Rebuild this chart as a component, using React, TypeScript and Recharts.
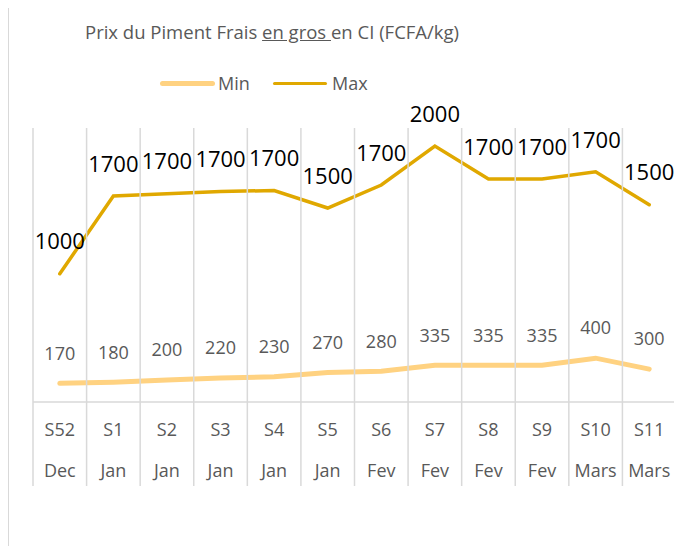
import { ComposedChart, Area, XAxis, YAxis, LabelList } from "recharts"

const weeks = ["S52", "S1", "S2", "S3", "S4", "S5", "S6", "S7", "S8", "S9", "S10", "S11"]
const months = ["Dec", "Jan", "Jan", "Jan", "Jan", "Jan", "Fev", "Fev", "Fev", "Fev", "Mars", "Mars"]
const minPrices = [170, 180, 200, 220, 230, 270, 280, 335, 335, 335, 400, 300]
const maxPrices = [1000, 1700, 1700, 1700, 1700, 1500, 1700, 2000, 1700, 1700, 1700, 1500]

const data = weeks.map((week, i) => ({
  week,
  month: months[i],
  min: minPrices[i],
  max: maxPrices[i],
}))

const MIN_COLOR = "#FFD281"
const MAX_COLOR = "#E0A800"
const GRID = "#D9D9D9"
const TEXT = "#595959"
const FONT = "'Open Sans', sans-serif"

const WIDTH = 674
const HEIGHT = 538
const MARGIN = { top: 120, right: 6, left: 25, bottom: 54 }
const BAND = (WIDTH - MARGIN.left - MARGIN.right) / weeks.length

function CategoryTick(props: any) {
  const { x, index, payload } = props
  const left = x - BAND / 2
  const right = x + BAND / 2
  return (
    <g>
      <line x1={left} x2={left} y1={MARGIN.top} y2={478} stroke={GRID} strokeWidth={1.5} />
      {index === weeks.length - 1 && (
        <line x1={right} x2={right} y1={MARGIN.top} y2={478} stroke={GRID} strokeWidth={1.5} />
      )}
      <text x={x} y={428} textAnchor="middle" fontSize={18} fill={TEXT} fontFamily={FONT}>
        {payload.value}
      </text>
      <text x={x} y={469} textAnchor="middle" fontSize={18} fill={TEXT} fontFamily={FONT}>
        {months[index]}
      </text>
    </g>
  )
}

function MinLabel(props: any) {
  const { x, y, value } = props
  return (
    <text x={x} y={y - 30} dy="0.35em" textAnchor="middle" fontSize={18} fill={TEXT} fontFamily={FONT}>
      {value}
    </text>
  )
}

function MaxLabel(props: any) {
  const { x, y, value } = props
  return (
    <text x={x} y={y - 32} dy="0.35em" textAnchor="middle" fontSize={22} fill="#000" fontFamily={FONT}>
      {value}
    </text>
  )
}

export default function App() {
  return (
    <div style={{ position: "relative", width: WIDTH, height: HEIGHT, fontFamily: FONT }}>
      <div
        style={{
          position: "absolute",
          left: 0,
          top: -1,
          width: WIDTH,
          height: HEIGHT + 10,
          borderTop: `1.5px solid ${GRID}`,
          borderLeft: `1.5px solid ${GRID}`,
        }}
      />
      <div
        style={{
          position: "absolute",
          left: 77,
          top: 12,
          fontSize: 18.5,
          lineHeight: "24px",
          color: TEXT,
          whiteSpace: "nowrap",
        }}
      >
        Prix du Piment Frais <span style={{ textDecoration: "underline" }}>en gros </span>en CI (FCFA/kg)
      </div>
      <div style={{ position: "absolute", left: 152, top: 73, width: 55, height: 5, borderRadius: 3, background: MIN_COLOR }} />
      <div style={{ position: "absolute", left: 210, top: 63, fontSize: 18, lineHeight: "24px", color: TEXT }}>Min</div>
      <div style={{ position: "absolute", left: 265, top: 74, width: 54, height: 3, borderRadius: 2, background: MAX_COLOR }} />
      <div style={{ position: "absolute", left: 324, top: 63, fontSize: 18, lineHeight: "24px", color: TEXT }}>Max</div>
      <ComposedChart width={WIDTH} height={HEIGHT} data={data} margin={MARGIN} style={{ position: "absolute", left: 0, top: 0 }}>
        <XAxis
          dataKey="week"
          scale="band"
          height={90}
          axisLine={{ stroke: GRID, strokeWidth: 1.5 }}
          tickLine={false}
          tick={<CategoryTick />}
          interval={0}
        />
        <YAxis type="number" domain={[0, 2500]} hide />
        <Area
          type="linear"
          dataKey="min"
          stackId="s"
          stroke={MIN_COLOR}
          strokeWidth={5}
          strokeLinecap="round"
          fill="none"
          dot={false}
          activeDot={false}
          isAnimationActive={false}
        >
          <LabelList dataKey="min" content={<MinLabel />} />
        </Area>
        <Area
          type="linear"
          dataKey="max"
          stackId="s"
          stroke={MAX_COLOR}
          strokeWidth={3.5}
          strokeLinecap="round"
          fill="none"
          dot={false}
          activeDot={false}
          isAnimationActive={false}
        >
          <LabelList dataKey="max" content={<MaxLabel />} />
        </Area>
      </ComposedChart>
    </div>
  )
}
